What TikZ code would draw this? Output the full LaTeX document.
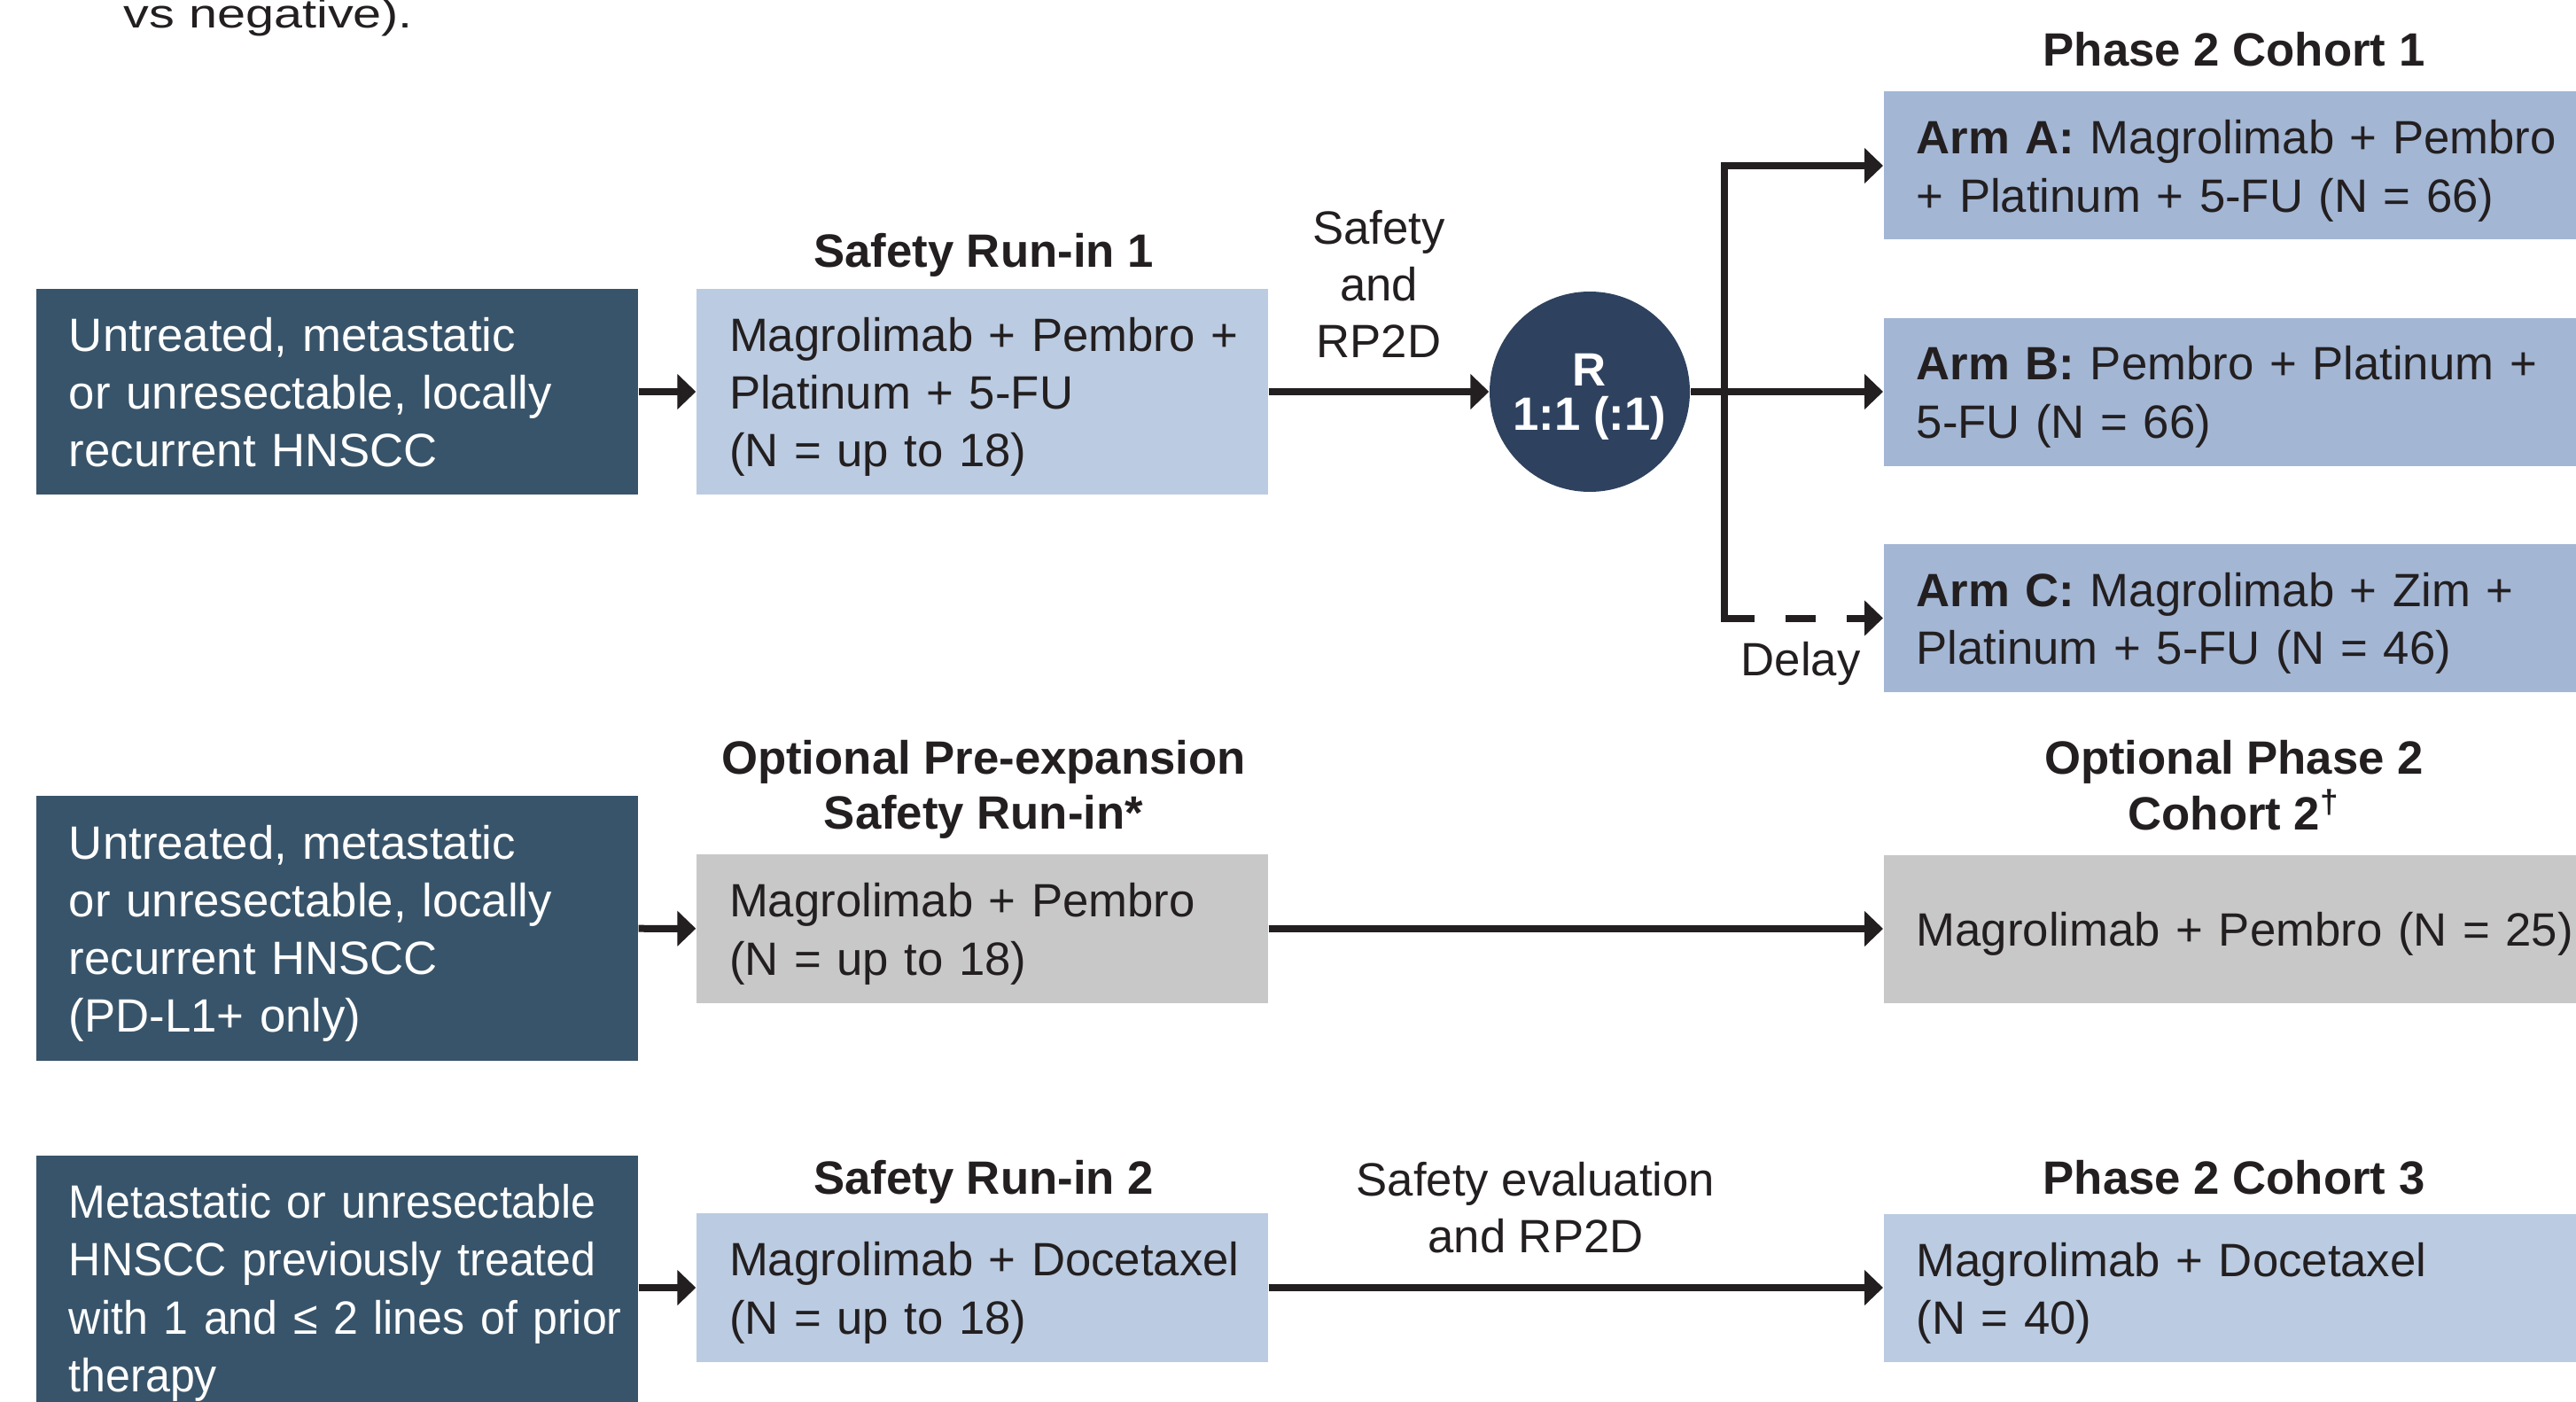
\documentclass[tikz,border=0pt]{standalone}
\usepackage{fontspec}
\setmainfont{Liberation Sans}
\newfontfamily\widefont[FakeStretch=1.26]{Liberation Sans}
\newfontfamily\narrowfont[FakeStretch=0.95]{Liberation Sans}
\usetikzlibrary{arrows.meta, positioning, calc}
\definecolor{popblue}{HTML}{38546A}
\definecolor{runblue}{HTML}{BBCBE1}
\definecolor{armblue}{HTML}{A3B6D4}
\definecolor{optgrey}{HTML}{C8C8C8}
\definecolor{randnavy}{HTML}{2E425F}
\definecolor{ink}{HTML}{231F20}

\begin{document}
\begin{tikzpicture}[
  >={Triangle[length=2.1mm, width=3.9mm]},
  box/.style={
    rectangle, inner xsep=0pt, inner ysep=0pt, align=left, text height=14.2pt,
    execute at begin node={\leftskip=0.37cm},
    font=\fontsize{15}{18.5}\selectfont, text=ink
  },
  popbox/.style={box, fill=popblue, text=white, text width=6.79cm},
  runbox/.style={box, fill=runblue, text width=6.45cm, minimum height=1.68cm},
  optbox/.style={runbox, fill=optgrey},
  armbox/.style={box, fill=armblue, text width=8cm, minimum height=1.67cm, anchor=west},
  cohbox/.style={armbox, fill=runblue},
  randcirc/.style={
    circle, fill=randnavy, text=white, minimum size=2.26cm, inner sep=0pt,
    align=center, text depth=0pt, font=\fontsize{15}{14.2}\selectfont\bfseries
  },
  steptitle/.style={font=\fontsize{15}{17.8}\selectfont\bfseries, text=ink, align=center, inner sep=0pt},
  note/.style={font=\fontsize{15}{18.2}\selectfont, text=ink, align=center, inner sep=0pt},
  arr/.style={->, line width=0.8mm, ink},
]

% Page frame
\useasboundingbox (0,0) rectangle (29.07,-15.82);
\clip (0,0) rectangle (29.07,-15.82);

% Tail of the text above
\node[anchor=base west, inner sep=0pt, text=ink, font=\widefont\fontsize{13}{15}\selectfont]
  (prevtext) at (1.39,-0.32) {vs negative).};

% =============================================
% Row 1: Safety Run-in 1 -> randomised Cohort 1
% =============================================
\node[popbox, minimum height=2.32cm, text height=11pt] (pop1) at (3.805,-4.42)
  {Untreated, metastatic\\or unresectable, locally\\recurrent HNSCC};

\node[runbox, minimum height=2.32cm] (run1) at (11.085,-4.42)
  {Magrolimab + Pembro +\\Platinum + 5-FU\\(N = up to 18)};
\node[steptitle, anchor=base] (run1t) at (11.10,-3.01) {Safety Run-in 1};

\node[randcirc] (rand) at (17.94,-4.42) {R\\1:1 (:1)};
\node[note] (rp2d) at (15.56,-3.20) {Safety\\and\\RP2D};

\node[armbox] (armA) at (21.25,-1.87)
  {\textbf{Arm A:} Magrolimab + Pembro\\+ Platinum + 5-FU (N = 66)};
\node[armbox] (armB) at (21.25,-4.42)
  {\textbf{Arm B:} Pembro + Platinum +\\5-FU (N = 66)};
\node[armbox] (armC) at (21.25,-6.975)
  {\textbf{Arm C:} Magrolimab + Zim +\\Platinum + 5-FU (N = 46)};
\node[steptitle, anchor=base] (coh1t) at (25.21,-0.75) {Phase 2 Cohort 1};

\coordinate (fork) at (19.46,-4.42);
\node[note, anchor=base] (delay) at (20.32,-7.62) {Delay};

\draw[arr] (pop1) -- (run1);
\draw[arr] (run1) -- (rand);
\draw[arr] (rand) -- (armB);
\draw[arr] (fork) |- (armA.west);
\draw[line width=0.8mm, ink, line cap=rect] (fork) -- (fork |- armC.west);
\draw[arr, dash pattern=on 3.4mm off 3.5mm] (fork |- armC.west) -- (armC.west);

% =============================================
% Row 2: optional pre-expansion -> Cohort 2
% =============================================
\node[popbox, minimum height=2.99cm] (pop2) at (3.805,-10.475)
  {Untreated, metastatic\\or unresectable, locally\\recurrent HNSCC\\(PD-L1+ only)};

\node[optbox] (opt1) at (11.085,-10.48)
  {Magrolimab + Pembro\\(N = up to 18)};
\node[steptitle] (opt1t) at (11.10,-8.91) {Optional Pre-expansion\\Safety Run-in*};

\node[armbox, fill=optgrey] (coh2) at (21.25,-10.48)
  {Magrolimab + Pembro (N = 25)};
\node[steptitle] (coh2t) at (25.21,-8.86) {Optional Phase 2\\Cohort 2\textsuperscript{†}};

\draw[arr] (pop2) -- (opt1);
\draw[arr] (opt1) -- (coh2);

% =============================================
% Row 3: Safety Run-in 2 -> Cohort 3
% =============================================
\node[popbox, minimum height=2.98cm, font=\narrowfont\fontsize{15}{18.5}\selectfont] (pop3) at (3.805,-14.53)
  {Metastatic or unresectable\\HNSCC previously treated\\with 1 and ≤ 2 lines of prior\\therapy};

\node[runbox] (run2) at (11.085,-14.53)
  {Magrolimab + Docetaxel\\(N = up to 18)};
\node[steptitle, anchor=base] (run2t) at (11.10,-13.47) {Safety Run-in 2};

\node[note] (evalnote) at (17.33,-13.63) {Safety evaluation\\and RP2D};

\node[cohbox] (coh3) at (21.25,-14.53)
  {Magrolimab + Docetaxel\\(N = 40)};
\node[steptitle, anchor=base] (coh3t) at (25.21,-13.47) {Phase 2 Cohort 3};

\draw[arr] (pop3) -- (run2);
\draw[arr] (run2) -- (coh3);

\end{tikzpicture}
\end{document}
